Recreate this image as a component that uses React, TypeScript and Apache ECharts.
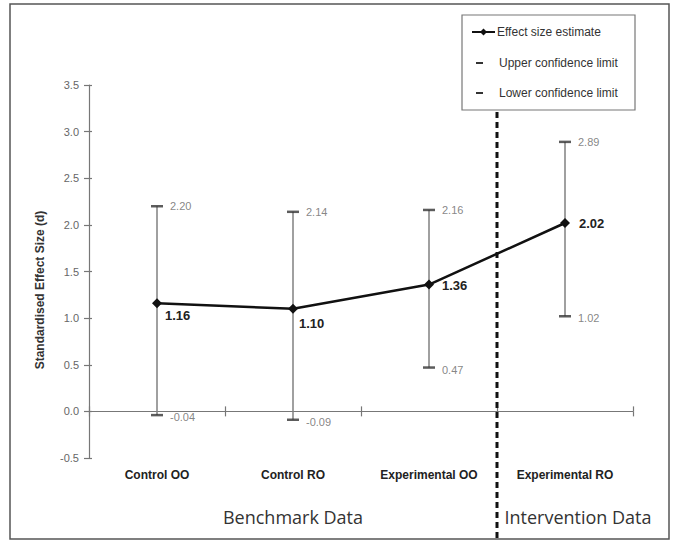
import React, { useEffect, useRef } from "react";
import * as echarts from "echarts";

const categories = ["Control OO", "Control RO", "Experimental OO", "Experimental RO"];
const estimates = [1.16, 1.1, 1.36, 2.02];
const upperLimits = [2.2, 2.14, 2.16, 2.89];
const lowerLimits = [-0.04, -0.09, 0.47, 1.02];
const yTicks = { min: -0.5, max: 3.5, interval: 0.5 };
const groupLabels = ["Benchmark Data", "Intervention Data"];
const legendLabels = ["Effect size estimate", "Upper confidence limit", "Lower confidence limit"];
const yAxisTitle = "Standardised Effect Size (d)";

// label placement for estimate labels (style only)
const estLabelStyle = [
  { position: "right", offset: [-2, 12] },
  { position: "right", offset: [-4, 15] },
  { position: "right", distance: 8, offset: [0, 1] },
  { position: "right", distance: 9, offset: [0, 0] },
];

const FONT = "'Liberation Sans', Arial, sans-serif";

export default function App() {
  const ref = useRef<HTMLDivElement>(null);
  useEffect(() => {
    if (!ref.current) return;
    const chart = echarts.init(ref.current, null, { renderer: "svg" });
    const grid = { left: 89, right: 43, top: 85, bottom: 84 };
    const option: any = {
      animation: false,
      backgroundColor: "#ffffff",
      textStyle: { fontFamily: FONT },
      grid,
      xAxis: [
        {
          type: "category",
          data: categories,
          boundaryGap: true,
          axisLine: { onZero: true, lineStyle: { color: "#777", width: 1.2 } },
          axisTick: { show: true, length: 5, interval: 0, lineStyle: { color: "#777", width: 1.2 } },
          axisLabel: {
            interval: 0,
            margin: 11,
            color: "#222",
            fontWeight: "bold",
            fontSize: 12,
            fontFamily: FONT,
          },
          splitLine: { show: false },
        },
        {
          type: "category",
          data: categories,
          position: "bottom",
          boundaryGap: true,
          axisLine: { show: false, onZero: true },
          axisTick: { show: true, inside: true, length: 5, interval: 0, lineStyle: { color: "#777", width: 1.2 } },
          axisLabel: { show: false },
          splitLine: { show: false },
        },
      ],
      yAxis: [
        {
          type: "value",
          min: yTicks.min,
          max: yTicks.max,
          interval: yTicks.interval,
          axisLine: { show: true, lineStyle: { color: "#777", width: 1.2 } },
          axisTick: { show: true, length: 5, lineStyle: { color: "#777", width: 1.2 } },
          axisLabel: {
            color: "#666",
            fontSize: 11,
            margin: 10,
            fontFamily: FONT,
            formatter: (v: number) => v.toFixed(1),
          },
          splitLine: { show: false },
        },
        {
          type: "value",
          position: "left",
          min: yTicks.min,
          max: yTicks.max,
          interval: yTicks.interval,
          axisLine: { show: false },
          axisTick: { show: true, inside: true, length: 3, lineStyle: { color: "#777", width: 1.2 } },
          axisLabel: { show: false },
          splitLine: { show: false },
        },
      ],
      series: [
        {
          name: "Confidence interval",
          type: "custom",
          z: 1,
          data: categories.map((_, i) => [i, lowerLimits[i], upperLimits[i]]),
          renderItem: (params: any, api: any) => {
            const lo = api.coord([api.value(0), api.value(1)]);
            const hi = api.coord([api.value(0), api.value(2)]);
            return {
              type: "line",
              shape: { x1: lo[0], y1: lo[1], x2: hi[0], y2: hi[1] },
              style: { stroke: "#808080", lineWidth: 1.5 },
            };
          },
        },
        {
          name: legendLabels[1],
          type: "scatter",
          z: 3,
          symbol: "rect",
          symbolSize: [12, 2.5],
          itemStyle: { color: "#333" },
          data: upperLimits,
          label: {
            show: true,
            position: "right",
            distance: 7,
            color: "#666",
            fontSize: 11,
            fontFamily: FONT,
            formatter: (p: any) => p.value.toFixed(2),
          },
        },
        {
          name: legendLabels[2],
          type: "scatter",
          z: 3,
          symbol: "rect",
          symbolSize: [12, 2.5],
          itemStyle: { color: "#333" },
          data: lowerLimits,
          label: {
            show: true,
            position: "right",
            distance: 7,
            offset: [0, 2],
            color: "#666",
            fontSize: 11,
            fontFamily: FONT,
            formatter: (p: any) => p.value.toFixed(2),
          },
        },
        {
          name: legendLabels[0],
          type: "line",
          z: 4,
          symbol: "diamond",
          symbolSize: 10,
          lineStyle: { color: "#111", width: 2.5 },
          itemStyle: { color: "#111" },
          data: estimates.map((v, i) => ({
            value: v,
            label: { ...estLabelStyle[i] },
          })),
          label: {
            show: true,
            color: "#222",
            fontWeight: "bold",
            fontSize: 13,
            fontFamily: FONT,
            formatter: (p: any) => Number(p.value).toFixed(2),
          },
        },
      ],
    };
    chart.setOption(option);

    const p2 = chart.convertToPixel({ xAxisIndex: 0 }, categories[2]) as number;
    const p3 = chart.convertToPixel({ xAxisIndex: 0 }, categories[3]) as number;
    const divX = (p2 + p3) / 2;
    const benchX = chart.convertToPixel({ xAxisIndex: 0 }, categories[1]) as number;
    const intX = p3;

    const lx = 462;
    const ly = 15;
    chart.setOption({
      graphic: [
        {
          type: "rect",
          shape: { x: 10, y: 4, width: 659, height: 535 },
          style: { fill: "none", stroke: "#555", lineWidth: 1.5 },
          silent: true,
        },
        {
          type: "line",
          shape: { x1: divX, y1: 112, x2: divX, y2: 538 },
          style: { stroke: "#111", lineWidth: 3, lineDash: [6, 4] },
          z: 10,
        },
        {
          type: "text",
          x: 40,
          y: 290,
          rotation: Math.PI / 2,
          style: {
            text: yAxisTitle,
            fill: "#333",
            font: `bold 12px ${FONT}`,
            align: "center",
            verticalAlign: "middle",
          },
        },
        {
          type: "text",
          x: benchX,
          y: 517,
          style: {
            text: groupLabels[0],
            fill: "#333",
            font: "18px 'Open Sans', sans-serif",
            align: "center",
            verticalAlign: "middle",
          },
        },
        {
          type: "text",
          x: intX + 13,
          y: 517,
          style: {
            text: groupLabels[1],
            fill: "#333",
            font: "18px 'Open Sans', sans-serif",
            align: "center",
            verticalAlign: "middle",
          },
        },
        // legend
        {
          type: "rect",
          shape: { x: lx, y: ly, width: 173, height: 95 },
          style: { fill: "#fff", stroke: "#777", lineWidth: 1.2 },
          z: 11,
        },
        {
          type: "line",
          shape: { x1: lx + 10, y1: ly + 17, x2: lx + 33, y2: ly + 17 },
          style: { stroke: "#111", lineWidth: 2 },
          z: 12,
        },
        {
          type: "polygon",
          shape: {
            points: [
              [lx + 21.5, ly + 13.5],
              [lx + 25, ly + 17],
              [lx + 21.5, ly + 20.5],
              [lx + 18, ly + 17],
            ],
          },
          style: { fill: "#111" },
          z: 12,
        },
        {
          type: "line",
          shape: { x1: lx + 14, y1: ly + 48, x2: lx + 21, y2: ly + 48 },
          style: { stroke: "#333", lineWidth: 2 },
          z: 12,
        },
        {
          type: "line",
          shape: { x1: lx + 14, y1: ly + 78, x2: lx + 21, y2: ly + 78 },
          style: { stroke: "#333", lineWidth: 2 },
          z: 12,
        },
        ...legendLabels.map((t, i) => ({
          type: "text",
          x: lx + (i === 0 ? 35 : 37),
          y: ly + 17 + i * 30.5,
          z: 12,
          style: {
            text: t,
            fill: "#333",
            font: `12px ${FONT}`,
            align: "left",
            verticalAlign: "middle",
          },
        })),
      ],
    });

    return () => chart.dispose();
  }, []);
  return (
    <div
      ref={ref}
      style={{ position: "fixed", left: 0, top: 0, width: 676, height: 542, background: "#fff" }}
    />
  );
}
